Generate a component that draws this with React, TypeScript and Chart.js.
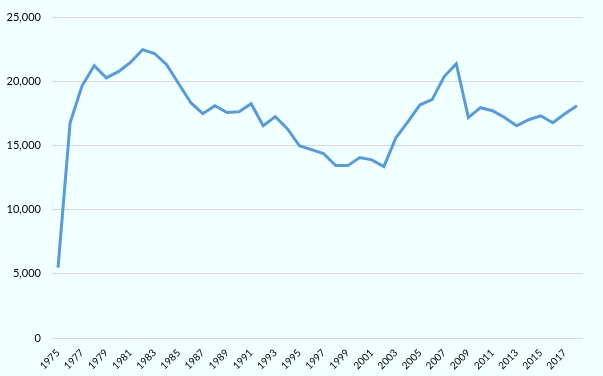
import React, { useEffect, useRef } from "react";
import { Chart, registerables } from "chart.js";

Chart.register(...registerables);

const years: string[] = [
  "1975","1976","1977","1978","1979","1980","1981","1982","1983","1984",
  "1985","1986","1987","1988","1989","1990","1991","1992","1993","1994",
  "1995","1996","1997","1998","1999","2000","2001","2002","2003","2004",
  "2005","2006","2007","2008","2009","2010","2011","2012","2013","2014",
  "2015","2016","2017","2018",
];

const values: number[] = [
  5500, 16800, 19700, 21250, 20300, 20780, 21500, 22500, 22200, 21330,
  19840, 18360, 17500, 18130, 17600, 17660, 18280, 16560, 17270, 16330,
  15000, 14700, 14400, 13450, 13450, 14080, 13900, 13380, 15630, 16880,
  18200, 18600, 20400, 21400, 17200, 17970, 17730, 17200, 16560, 17030,
  17340, 16800, 17500, 18130,
];

const yTicks: number[] = [0, 5000, 10000, 15000, 20000, 25000];

export default function App() {
  const ref = useRef<HTMLCanvasElement | null>(null);
  useEffect(() => {
    if (!ref.current) return;
    const chart = new Chart(ref.current, {
      type: "line",
      data: {
        labels: years,
        datasets: [
          {
            data: values,
            borderColor: "#5B9BD5",
            borderWidth: 3,
            pointRadius: 0,
            tension: 0,
            fill: false,
          },
        ],
      },
      options: {
        animation: false,
        responsive: false,
        maintainAspectRatio: false,
        layout: { padding: { left: 6, right: 20, top: 9, bottom: 0 } },
        plugins: { legend: { display: false }, tooltip: { enabled: false } },
        scales: {
          x: {
            offset: true,
            grid: { display: false, drawTicks: false },
            border: { display: false },
            afterFit: (axis: any) => {
              axis.height = 38;
            },
            ticks: {
              autoSkip: false,
              maxRotation: 45,
              minRotation: 45,
              padding: 9,
              color: "#000000",
              font: { family: "Lato", size: 10 },
              callback: (v: any, i: number) => (i % 2 === 0 ? years[i] : ""),
            },
          },
          y: {
            min: yTicks[0],
            max: yTicks[yTicks.length - 1],
            afterBuildTicks: (axis: any) => {
              axis.ticks = yTicks.map((v) => ({ value: v }));
            },
            afterFit: (axis: any) => {
              axis.width = 46;
            },
            grid: { color: "#D9D9D9", drawTicks: false, lineWidth: 1 },
            border: { display: false },
            ticks: {
              padding: 11,
              color: "#000000",
              font: { family: "Lato", size: 11 },
              callback: (v: any) => Number(v).toLocaleString("en-US"),
            },
          },
        },
      },
    });
    return () => chart.destroy();
  }, []);
  return (
    <div
      style={{
        position: "fixed",
        left: 0,
        top: 0,
        width: 603,
        height: 376,
        background: "#F0FFFF",
      }}
    >
      <canvas ref={ref} width={603} height={376} />
    </div>
  );
}
